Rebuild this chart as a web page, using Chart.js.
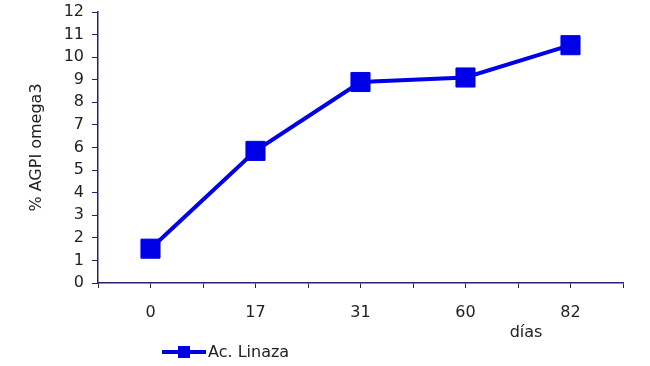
<!DOCTYPE html>
<html>
<head>
<meta charset="utf-8">
<script src="https://cdn.jsdelivr.net/npm/chart.js@4"></script>
<style>
  html, body { margin: 0; padding: 0; background: #fff; }
  #wrap { width: 650px; height: 366px; }
</style>
</head>
<body>
<div id="wrap"><canvas id="chartOmega"></canvas></div>
<script>
const dias = ['0', '17', '31', '60', '82'];
const linaza = [1.52, 5.85, 8.9, 9.1, 10.53];
const serieNombre = 'Ac. Linaza';
const tituloY = '% AGPI omega3';
const tituloX = 'días';

const azul = '#0000e8';
const ejeColor = '#23236e';
const textoColor = '#222';
const fuente = { family: 'DejaVu Sans, sans-serif', size: 16 };

// puntos en un eje lineal para tener marcas cada media categoría
const puntos = linaza.map((v, i) => ({ x: i, y: v }));

// leyenda y título "días" dibujados a mano
const extras = {
    id: 'extras',
    afterDraw(chart) {
        const c = chart.ctx;
        c.save();
        c.font = `${fuente.size}px ${fuente.family}`;
        c.fillStyle = textoColor;
        c.textBaseline = 'middle';
        c.textAlign = 'center';
        c.fillText(tituloX, 526, 333);

        c.strokeStyle = azul;
        c.lineWidth = 4;
        c.beginPath();
        c.moveTo(162, 352);
        c.lineTo(206, 352);
        c.stroke();
        c.fillStyle = azul;
        c.fillRect(178, 346, 12, 12);
        c.fillStyle = textoColor;
        c.textAlign = 'left';
        c.fillText(serieNombre, 208, 353);
        c.restore();
    }
};

new Chart(document.getElementById('chartOmega'), {
    type: 'line',
    data: {
        datasets: [{
            label: serieNombre,
            data: puntos,
            borderColor: azul,
            backgroundColor: azul,
            borderWidth: 4,
            pointStyle: 'rect',
            pointRadius: 13.5,
            pointBorderWidth: 1,
            pointBorderColor: azul,
            pointBackgroundColor: azul,
            tension: 0
        }]
    },
    options: {
        responsive: true,
        maintainAspectRatio: false,
        animation: false,
        layout: { autoPadding: false, padding: { top: 12, right: 27, bottom: 0, left: 0 } },
        plugins: {
            legend: { display: false },
            tooltip: { enabled: false }
        },
        scales: {
            x: {
                type: 'linear',
                min: -0.5,
                max: 4.5,
                afterFit: s => { s.height = 83; s.paddingLeft = 0; s.paddingRight = 0; },
                afterBuildTicks: s => {
                    s.ticks = [];
                    for (let k = 0; k <= 10; k++) s.ticks.push({ value: -0.5 + k * 0.5 });
                },
                ticks: {
                    autoSkip: false,
                    maxRotation: 0,
                    color: textoColor,
                    font: fuente,
                    padding: 15,
                    callback: v => Number.isInteger(v) ? dias[v] : ''
                },
                grid: { drawOnChartArea: false, tickLength: 5, color: ejeColor, tickColor: ejeColor },
                border: { color: ejeColor, width: 1.5 }
            },
            y: {
                min: 0,
                max: 12,
                afterFit: s => { s.width = 98; s.paddingTop = 0; s.paddingBottom = 0; },
                ticks: { stepSize: 1, autoSkip: false, color: textoColor, font: fuente, padding: 8 },
                grid: { drawOnChartArea: false, tickLength: 6, color: ejeColor, tickColor: ejeColor },
                border: { color: ejeColor, width: 1.5 },
                title: {
                    display: true,
                    text: tituloY,
                    color: textoColor,
                    font: fuente,
                    padding: { top: 27, bottom: 0 }
                }
            }
        }
    },
    plugins: [extras]
});
</script>
</body>
</html>
